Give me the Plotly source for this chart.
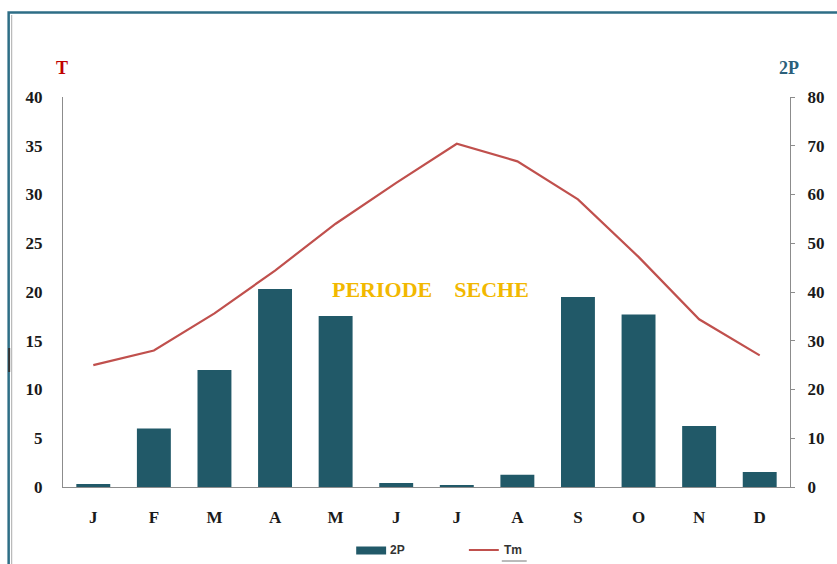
import plotly.graph_objects as go

# Monthly climate data (ombrothermic diagram)
months = ["J", "F", "M", "A", "M", "J", "J", "A", "S", "O", "N", "D"]
month_keys = ["jan", "feb", "mar", "apr", "may", "jun", "jul", "aug", "sep", "oct", "nov", "dec"]
precip_2p = [0.6, 12, 24, 40.6, 35.1, 0.8, 0.4, 2.5, 39, 35.4, 12.5, 3.1]
temp_tm = [12.5, 14, 17.8, 22.2, 27, 31.2, 35.2, 33.4, 29.5, 23.6, 17.2, 13.5]

left_ticks = [0, 5, 10, 15, 20, 25, 30, 35, 40]
right_ticks = [0, 10, 20, 30, 40, 50, 60, 70, 80]

W, H = 837, 564
ML, MR, MT, MB = 63, 45, 97, 77
PW, PH = W - ML - MR, H - MT - MB

BAR_COLOR = "#215968"
LINE_COLOR = "#C0504D"
AXIS_COLOR = "#8C8C8C"
SERIF = "Liberation Serif, Times New Roman, serif"
SANS = "Liberation Sans, Arial, sans-serif"


def px(x):
    return (x - ML) / PW


def py(y):
    return (H - MB - y) / PH


fig = go.Figure()

fig.add_trace(go.Bar(
    x=month_keys, y=precip_2p, name="2P",
    marker=dict(color=BAR_COLOR, line=dict(width=0)),
    yaxis="y",
))
fig.add_trace(go.Scatter(
    x=month_keys, y=temp_tm, name="Tm", mode="lines",
    line=dict(color=LINE_COLOR, width=2.2),
    yaxis="y2",
))

tick_font = dict(family=SERIF, size=17, color="#1a1a1a", weight="bold")

fig.update_layout(
    width=W, height=H,
    margin=dict(l=ML, r=MR, t=MT, b=MB),
    paper_bgcolor="white", plot_bgcolor="white",
    showlegend=False,
    bargap=0.44,
    xaxis=dict(
        type="category",
        tickmode="array", tickvals=month_keys, ticktext=months,
        showgrid=False, zeroline=False,
        showline=True, linecolor=AXIS_COLOR, linewidth=1.2,
        ticks="", tickfont=tick_font, ticklabelstandoff=14,
    ),
    # precipitation axis (right)
    yaxis=dict(
        side="right", range=[0, 80], tickvals=right_ticks,
        showgrid=False, zeroline=False,
        showline=True, linecolor=AXIS_COLOR, linewidth=1.2,
        ticks="outside", ticklen=4, tickcolor=AXIS_COLOR,
        tickfont=tick_font, ticklabelstandoff=9,
    ),
    # temperature axis (left)
    yaxis2=dict(
        side="left", overlaying="y", range=[0, 40], tickvals=left_ticks,
        showgrid=False, zeroline=False,
        showline=True, linecolor=AXIS_COLOR, linewidth=1.2,
        ticks="", tickfont=tick_font, ticklabelstandoff=16,
    ),
)

annotations = [
    dict(text="<b>T</b>", x=px(62), y=py(68), xref="paper", yref="paper",
         showarrow=False, xanchor="center", yanchor="middle",
         font=dict(family=SERIF, size=18, color="#C00000")),
    dict(text="<b>2P</b>", x=px(791), y=py(68), xref="paper", yref="paper",
         showarrow=False, xanchor="center", yanchor="middle",
         font=dict(family=SERIF, size=18, color="#2B5F7A")),
    dict(text="<b>PERIODE\u00a0\u00a0\u00a0\u00a0SECHE</b>", x=px(432), y=py(289),
         xref="paper", yref="paper", showarrow=False,
         xanchor="center", yanchor="middle",
         font=dict(family=SERIF, size=22, color="#F2B800")),
    dict(text="<b>2P</b>", x=px(389), y=py(550), xref="paper", yref="paper",
         showarrow=False, xanchor="left", yanchor="middle",
         font=dict(family=SANS, size=12, color="#333333")),
    dict(text="<b>Tm</b>", x=px(503), y=py(550), xref="paper", yref="paper",
         showarrow=False, xanchor="left", yanchor="middle",
         font=dict(family=SANS, size=12, color="#333333")),
]

shapes = [
    # outer frame
    dict(type="rect", xref="paper", yref="paper",
         x0=px(8.5), x1=px(850), y0=py(12.5), y1=py(580),
         line=dict(color="#2E6E86", width=2.5), fillcolor="rgba(0,0,0,0)"),
    dict(type="line", xref="paper", yref="paper",
         x0=px(11.5), x1=px(11.5), y0=py(15), y1=py(580),
         line=dict(color="#B8B8B8", width=1.2)),
    dict(type="line", xref="paper", yref="paper",
         x0=px(9), x1=px(9), y0=py(348), y1=py(372),
         line=dict(color="#333333", width=2)),
    # legend keys
    dict(type="rect", xref="paper", yref="paper",
         x0=px(357), x1=px(387), y0=py(546.5), y1=py(554.5),
         line=dict(width=0), fillcolor=BAR_COLOR),
    dict(type="line", xref="paper", yref="paper",
         x0=px(470), x1=px(500), y0=py(550), y1=py(550),
         line=dict(color=LINE_COLOR, width=2)),
    dict(type="line", xref="paper", yref="paper",
         x0=px(503), x1=px(528), y0=py(561), y1=py(561),
         line=dict(color="#777777", width=1)),
]

fig.update_layout(annotations=annotations, shapes=shapes)

fig.write_html("out.html")
